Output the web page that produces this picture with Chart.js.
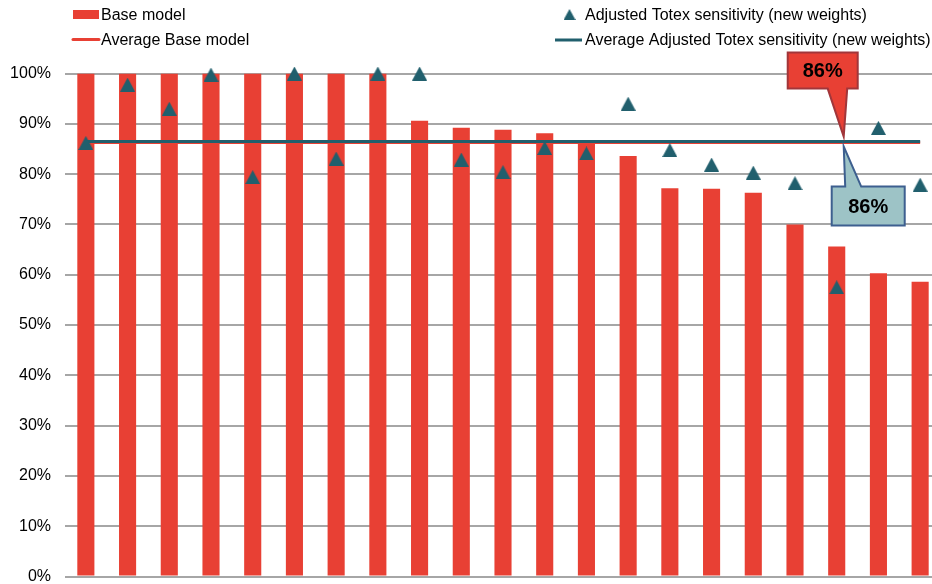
<!DOCTYPE html>
<html>
<head>
<meta charset="utf-8">
<script src="https://cdn.jsdelivr.net/npm/chart.js@4.4.0/dist/chart.umd.min.js"></script>
<style>
  html, body { margin: 0; padding: 0; background: #ffffff; overflow: hidden; }
  #wrap { position: relative; width: 942px; height: 584px; }
</style>
</head>
<body>
<div id="wrap"><canvas id="chart" width="942" height="584"></canvas></div>
<script>
// Companies (not labelled on the axis)
const categories = ['1', '2', '3', '4', '5', '6', '7', '8', '9', '10', '11',
                    '12', '13', '14', '15', '16', '17', '18', '19', '20', '21'];

// Efficiency scores, %
const baseModel = [100, 100, 100, 100, 100, 100, 100, 100, 90.6, 89.2, 88.8,
                   88.1, 86.2, 83.6, 77.2, 77.1, 76.3, 70.0, 65.6, 60.3, 58.6];
const adjustedTotex = [86.2, 97.8, 93.0, 99.8, 79.4, 100, 83.1, 100, 100, 82.9, 80.4,
                       85.2, 84.1, 94.0, 84.8, 81.9, 80.3, 78.2, 57.5, 89.2, 77.9];

const yTicks = [0, 10, 20, 30, 40, 50, 60, 70, 80, 90, 100];

const legendLabels = ['Base model', 'Average Base model',
                      'Adjusted Totex sensitivity (new weights)',
                      'Average Adjusted Totex sensitivity (new weights)'];

const RED = '#E84034';
const TEAL = '#215F6D';
const FONT = '"Liberation Sans", Arial, sans-serif';

const mean = arr => arr.reduce((s, v) => s + v, 0) / arr.length;
const avgBase = mean(baseModel);
const avgAdjusted = mean(adjustedTotex);

// Triangle marker, centred on its bounding box
function makeTriangle(w, h, color) {
  const c = document.createElement('canvas');
  c.width = w; c.height = h;
  const g = c.getContext('2d');
  g.fillStyle = color;
  g.beginPath();
  g.moveTo(w / 2, 0);
  g.lineTo(w, h);
  g.lineTo(0, h);
  g.closePath();
  g.fill();
  return c;
}
const triangle = makeTriangle(15, 14, TEAL);

// Two-column legend at the top
const legendPlugin = {
  id: 'twoColumnLegend',
  afterDraw(chart) {
    const ctx = chart.ctx;
    ctx.save();
    ctx.font = '16px ' + FONT;
    ctx.textBaseline = 'alphabetic';
    ctx.textAlign = 'left';

    // Base model bar swatch
    ctx.fillStyle = RED;
    ctx.fillRect(73, 10, 26, 9);
    ctx.fillStyle = '#000000';
    ctx.fillText(legendLabels[0], 101, 20);

    // Average Base model line swatch
    ctx.strokeStyle = RED;
    ctx.lineWidth = 3;
    ctx.lineCap = 'round';
    ctx.beginPath();
    ctx.moveTo(73, 39.5);
    ctx.lineTo(99, 39.5);
    ctx.stroke();
    ctx.fillText(legendLabels[1], 101, 45);

    // Adjusted Totex triangle swatch
    ctx.drawImage(makeTriangle(12, 11, TEAL), 563.5, 9);
    ctx.fillText(legendLabels[2], 585, 20);

    // Average Adjusted Totex line swatch
    ctx.strokeStyle = TEAL;
    ctx.lineCap = 'butt';
    ctx.beginPath();
    ctx.moveTo(555, 40);
    ctx.lineTo(582, 40);
    ctx.stroke();
    ctx.fillText(legendLabels[3], 585, 45);
    ctx.restore();
  }
};

// Callouts stating the two averages
const calloutPlugin = {
  id: 'averageCallouts',
  afterDatasetsDraw(chart) {
    const ctx = chart.ctx;
    const x = chart.scales.x;
    const y = chart.scales.y;
    const tipX = x.getPixelForValue(18) + 7;
    const yAdj = y.getPixelForValue(avgAdjusted);
    const yBase = y.getPixelForValue(avgBase);

    ctx.save();
    ctx.lineWidth = 2;
    ctx.lineJoin = 'miter';

    // Red callout above the lines (Base model average)
    const rTip = yAdj - 5;
    const rBottom = rTip - 48;
    const rTop = rBottom - 36;
    const rLeft = tipX - 56, rRight = tipX + 14;
    ctx.beginPath();
    ctx.moveTo(rLeft, rTop);
    ctx.lineTo(rRight, rTop);
    ctx.lineTo(rRight, rBottom);
    ctx.lineTo(tipX + 3.5, rBottom);
    ctx.lineTo(tipX, rTip);
    ctx.lineTo(tipX - 16, rBottom);
    ctx.lineTo(rLeft, rBottom);
    ctx.closePath();
    ctx.fillStyle = RED;
    ctx.fill();
    ctx.strokeStyle = '#A1363A';
    ctx.stroke();

    // Blue callout below the lines (Adjusted Totex average)
    const bTip = yBase + 4;
    const bTop = bTip + 40;
    const bBottom = bTop + 39;
    const bLeft = tipX - 12, bRight = tipX + 61;
    ctx.beginPath();
    ctx.moveTo(bLeft, bTop);
    ctx.lineTo(tipX + 1.5, bTop);
    ctx.lineTo(tipX, bTip);
    ctx.lineTo(tipX + 17.5, bTop);
    ctx.lineTo(bRight, bTop);
    ctx.lineTo(bRight, bBottom);
    ctx.lineTo(bLeft, bBottom);
    ctx.closePath();
    ctx.fillStyle = '#9DC3C6';
    ctx.fill();
    ctx.strokeStyle = '#3D5F8F';
    ctx.stroke();

    ctx.fillStyle = '#000000';
    ctx.font = 'bold 20px ' + FONT;
    ctx.textAlign = 'center';
    ctx.textBaseline = 'middle';
    ctx.fillText(Math.round(avgBase) + '%', (rLeft + rRight) / 2, (rTop + rBottom) / 2 + 1);
    ctx.fillText(Math.round(avgAdjusted) + '%', (bLeft + bRight) / 2, (bTop + bBottom) / 2 + 1.5);
    ctx.restore();
  }
};

new Chart(document.getElementById('chart'), {
  type: 'bar',
  data: {
    labels: categories,
    datasets: [
      {
        type: 'line',
        label: legendLabels[2],
        data: adjustedTotex,
        showLine: false,
        pointStyle: triangle,
        pointRadius: 7,
        pointHoverRadius: 7,
        clip: false,
        order: 0
      },
      {
        type: 'line',
        label: legendLabels[3],
        data: categories.map(() => avgAdjusted),
        borderColor: TEAL,
        borderWidth: 3,
        pointRadius: 0,
        fill: false,
        order: 1
      },
      {
        type: 'line',
        label: legendLabels[1],
        data: categories.map(() => avgBase),
        borderColor: RED,
        borderWidth: 3,
        pointRadius: 0,
        fill: false,
        order: 2
      },
      {
        type: 'bar',
        label: legendLabels[0],
        data: baseModel,
        backgroundColor: RED,
        barPercentage: 0.41,
        categoryPercentage: 1,
        order: 3
      }
    ]
  },
  options: {
    responsive: false,
    animation: false,
    layout: { autoPadding: false, padding: { top: 73.5, bottom: 7.5, left: 0, right: 1 } },
    plugins: { legend: { display: false }, tooltip: { enabled: false } },
    scales: {
      x: {
        display: false,
        offset: true
      },
      y: {
        min: 0,
        max: 100,
        afterBuildTicks(scale) {
          scale.ticks = yTicks.map(v => ({ value: v }));
        },
        afterFit(scale) {
          scale.width = 65;
          scale.paddingTop = 0;
          scale.paddingBottom = 0;
        },
        border: { display: false },
        grid: { color: '#A6A6A6', lineWidth: 2, drawTicks: false },
        ticks: {
          padding: 14,
          color: '#000000',
          font: { family: FONT, size: 16 },
          callback: v => v + '%'
        }
      }
    }
  },
  plugins: [legendPlugin, calloutPlugin]
});
</script>
</body>
</html>
